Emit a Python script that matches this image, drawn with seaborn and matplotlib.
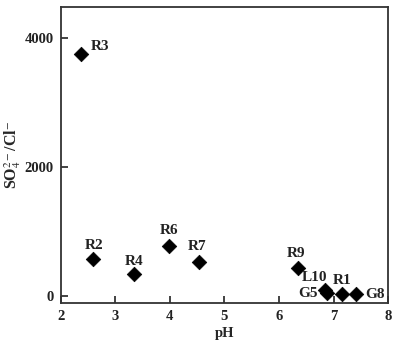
import matplotlib
matplotlib.use("Agg")
import matplotlib.pyplot as plt
import seaborn as sns
import pandas as pd

labels = ["R3", "R2", "R4", "R6", "R7", "R9", "L10", "G5", "R1", "G8"]
ph = [2.37, 2.59, 3.34, 3.98, 4.53, 6.34, 6.84, 6.88, 7.16, 7.41]
ratio = [3752, 574, 341, 775, 527, 434, 93, 46, 31, 31]
xticks = [2, 3, 4, 5, 6, 7, 8]
yticks = [0, 2000, 4000]

sns.set_theme(style="ticks")
plt.rcParams["font.family"] = ["Liberation Serif", "DejaVu Serif"]
plt.rcParams["mathtext.fontset"] = "stix"

df = pd.DataFrame({"pH": ph, "ratio": ratio, "label": labels})

fig = plt.figure(figsize=(4.03, 3.51), dpi=100)
ax = fig.add_axes([0.151, 0.137, 0.812, 0.843])
sns.scatterplot(data=df, x="pH", y="ratio", marker="D", color="black", s=55,
                edgecolor="black", linewidth=0.5, ax=ax, legend=False, zorder=3)

# (dx, dy in pixels, ha, va)
place = {"R3": (10, 7, "left", "center"),
         "R2": (1, 7, "center", "bottom"),
         "R4": (0, 6, "center", "bottom"),
         "R6": (0, 9, "center", "bottom"),
         "R7": (-2, 9, "center", "bottom"),
         "R9": (-2, 8, "center", "bottom"),
         "L10": (2, 6, "right", "bottom"),
         "G5": (-9, -1, "right", "center"),
         "R1": (0, 7, "center", "bottom"),
         "G8": (9, -1, "left", "center")}
for lab, x, y in zip(labels, ph, ratio):
    dx, dy, ha, va = place[lab]
    ax.annotate(lab, (x, y), xytext=(dx, dy), textcoords="offset pixels",
                ha=ha, va=va, fontsize=11, fontweight="bold", color="#222222")

ax.set_xlim(2, 8)
ax.set_ylim(-110, 4480)
ax.set_xticks(xticks)
ax.set_yticks(yticks)
ax.tick_params(direction="in", length=5, width=1.2, labelsize=10.5, colors="#222222", pad=5)
for t in ax.get_xticklabels() + ax.get_yticklabels():
    t.set_fontweight("bold")
for sp in ax.spines.values():
    sp.set_visible(True)
    sp.set_linewidth(1.3)
    sp.set_color("#333333")
ax.set_xlabel("pH", fontsize=10.5, fontweight="bold", labelpad=3)
ax.set_ylabel(r"SO$_4^{2-}$/Cl$^{-}$", fontsize=11.5, fontweight="bold")
ax.yaxis.set_label_coords(-0.115, 0.5)

fig.savefig("out.png", dpi=100)
